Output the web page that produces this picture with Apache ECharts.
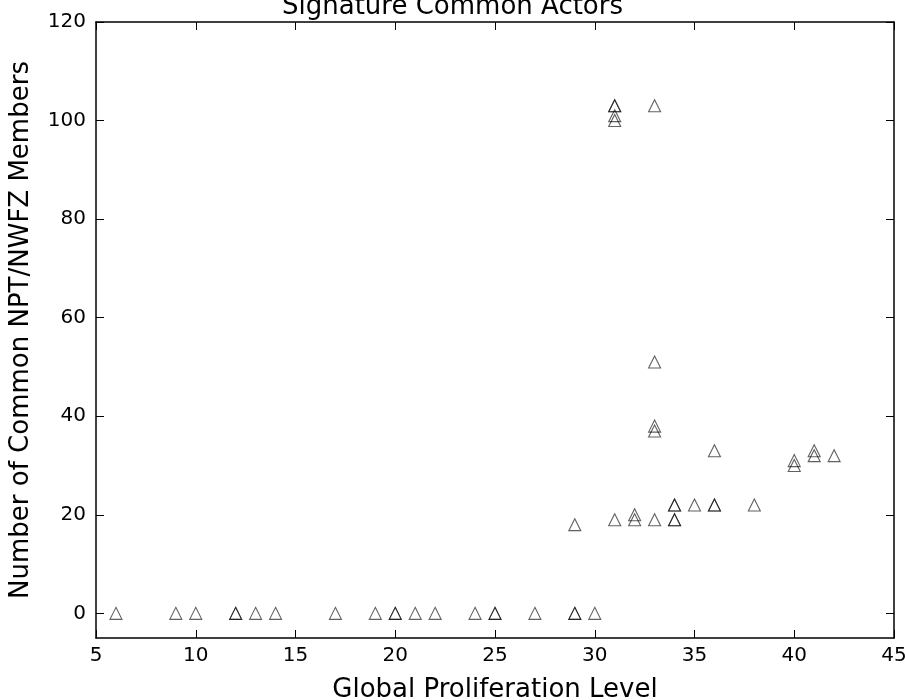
<!DOCTYPE html>
<html>
<head>
<meta charset="utf-8">
<script src="https://cdn.jsdelivr.net/npm/echarts@6/dist/echarts.min.js"></script>
<style>
  html, body { margin: 0; padding: 0; background: #fff; }
  #chart { width: 905px; height: 700px; }
</style>
</head>
<body>
<div id="chart"></div>
<script>
// proliferation level of each actor pair and their common members
var levels = [6, 9, 10, 12, 12, 13, 14, 17, 19, 20, 20, 21, 22, 24, 25, 25, 27, 29, 29, 30,
  29, 31, 32, 32, 33, 34, 34, 34, 34, 35, 36, 36, 38,
  33, 33, 33, 36, 40, 40, 41, 41, 42,
  31, 31, 31, 31, 33];
var members = [0, 0, 0, 0, 0, 0, 0, 0, 0, 0, 0, 0, 0, 0, 0, 0, 0, 0, 0, 0,
  18, 19, 20, 19, 19, 19, 19, 22, 22, 22, 22, 22, 22,
  51, 38, 37, 33, 31, 30, 33, 32, 32,
  103, 103, 101, 100, 103];
var yTicks = [0, 20, 40, 60, 80, 100, 120];

var points = levels.map(function (x, i) { return [x, members[i]]; });

var font = 'DejaVu Sans';
var chart = echarts.init(document.getElementById('chart'));

var tick = { show: true, inside: true, length: 8, lineStyle: { color: '#000', width: 1 } };
var line = { show: true, onZero: false, lineStyle: { color: '#000', width: 1.5 } };

chart.setOption({
  animation: false,
  title: {
    text: 'Signature Common Actors',
    left: 'center',
    top: -11,
    textStyle: { fontFamily: font, fontSize: 26, fontWeight: 'normal', color: '#000' }
  },
  grid: { left: 96, right: 11, top: 22, bottom: 62, outerBoundsMode: 'none' },
  xAxis: [{
    type: 'value', min: 5, max: 45, interval: 5,
    name: 'Global Proliferation Level', nameLocation: 'middle', nameGap: 39,
    nameTextStyle: { fontFamily: font, fontSize: 26, color: '#000' },
    axisLine: line, axisTick: tick, splitLine: { show: false },
    axisLabel: { fontFamily: font, fontSize: 20, color: '#000', margin: 8 }
  }, {
    type: 'value', position: 'top', min: 5, max: 45, interval: 5,
    axisLine: line, axisTick: tick, splitLine: { show: false },
    axisLabel: { show: false }
  }],
  yAxis: [{
    type: 'value', min: -5, max: 120,
    name: 'Number of Common NPT/NWFZ Members', nameLocation: 'middle', nameGap: 62,
    nameTextStyle: { fontFamily: font, fontSize: 26, color: '#000' },
    axisLine: line, splitLine: { show: false },
    axisTick: Object.assign({ customValues: yTicks }, tick),
    axisLabel: { customValues: yTicks, fontFamily: font, fontSize: 20, color: '#000', margin: 10 }
  }, {
    type: 'value', position: 'right', min: -5, max: 120,
    axisLine: line, splitLine: { show: false },
    axisTick: Object.assign({ customValues: yTicks }, tick),
    axisLabel: { show: false, customValues: yTicks }
  }],
  series: [{
    type: 'scatter',
    data: points,
    symbol: 'triangle',
    symbolSize: 12,
    itemStyle: { color: 'rgba(0,0,0,0)', borderColor: 'rgba(0,0,0,0.78)', borderWidth: 1.1 }
  }]
});
</script>
</body>
</html>
